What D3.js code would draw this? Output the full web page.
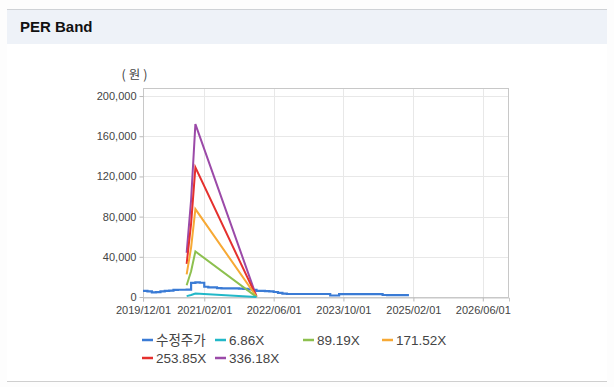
<!DOCTYPE html>
<html><head><meta charset="utf-8">
<script src="https://cdn.jsdelivr.net/npm/d3@7/dist/d3.min.js"></script>
<style>
html,body{margin:0;padding:0;background:#fff;}
svg{display:block;}
</style></head>
<body>
<svg id="c" width="614" height="387"></svg>
<script>
// ---- data ----
const title = "PER Band";
const unitLabel = "(원)";
const priceMonths = ["2019-12","2020-01","2020-02","2020-03","2020-04","2020-05","2020-06","2020-07","2020-08","2020-09",
  "2020-10","2020-11","2020-12","2021-01","2021-02","2021-03","2021-04","2021-05","2021-06","2021-07",
  "2021-08","2021-09","2021-10","2021-11","2021-12","2022-01","2022-02","2022-03","2022-04","2022-05",
  "2022-06","2022-07","2022-08","2022-09","2022-10","2022-11","2022-12","2023-01","2023-02","2023-03",
  "2023-04","2023-05","2023-06","2023-07","2023-08","2023-09","2023-10","2023-11","2023-12","2024-01",
  "2024-02","2024-03","2024-04","2024-05","2024-06","2024-07","2024-08","2024-09","2024-10","2024-11",
  "2024-12","2025-01"];
const priceValues = [6000,5500,4600,4800,5600,6000,6400,7000,7200,7200,
  7300,14000,14600,14200,10200,9600,9500,8800,8600,8600,
  8500,8500,8300,8000,7500,7000,6000,6000,5800,5500,
  5000,4200,3400,3000,3000,3000,3000,3000,3000,3000,
  3000,3000,3000,1500,1500,2800,2800,2800,2800,2800,
  2800,2800,2800,2800,2800,2000,1900,1900,1900,1800,
  1800,1800];
const bandMonths = ["2020-10","2020-11","2020-12","2022-02"];
const band686 = [900, 2000, 3500, 50];
const band8919 = [11700, 25600, 45300, 150];
const band17152 = [22500, 49200, 87500, 250];
const band25385 = [33000, 72900, 129000, 350];
const band33618 = [44000, 96500, 172000, 450];
const seriesNames = ["수정주가","6.86X","89.19X","171.52X","253.85X","336.18X"];
const xTickLabels = ["2019/12/01","2021/02/01","2022/06/01","2023/10/01","2025/02/01","2026/06/01"];
const yTickValues = [0,40000,80000,120000,160000,200000];

// ---- styles / layout ----
const colors = ["#3a7bd5","#22b8c8","#8dc04f","#f7a935","#e5302e","#9b4aa8"];
const svg = d3.select("#c");
const parse = d3.utcParse("%Y-%m");
const parseTick = d3.utcParse("%Y/%m/%d");
const L = 143, R = 509, T = 88, B = 297;

// page chrome
svg.append("rect").attr("x",0).attr("y",0).attr("width",614).attr("height",387).attr("fill","#fdfdfd");
svg.append("rect").attr("x",7).attr("y",9).attr("width",600).attr("height",35).attr("fill","#eef2f8");
svg.append("line").attr("x1",7).attr("x2",607).attr("y1",9.5).attr("y2",9.5).attr("stroke","#cfd2d6");
svg.append("rect").attr("x",7).attr("y",44).attr("width",600).attr("height",337).attr("fill","#fff");
svg.append("line").attr("x1",7).attr("x2",607).attr("y1",381.5).attr("y2",381.5).attr("stroke","#cfcfcf");
svg.append("text").attr("x",20).attr("y",32).text(title)
  .attr("font-family","Liberation Sans, Arial, sans-serif").attr("font-weight","bold")
  .attr("font-size",15).attr("fill","#111");

const x = d3.scaleUtc().domain([parseTick("2019/12/01"), parseTick("2026/12/01")]).range([L,R]);
const y = d3.scaleLinear().domain([0,208000]).range([B,T]);
const xTicks = xTickLabels.map(parseTick);

// grid
const g = svg.append("g");
g.selectAll(".hg").data(yTickValues).join("line")
  .attr("x1",L).attr("x2",R).attr("y1",d=>Math.round(y(d))+0.5).attr("y2",d=>Math.round(y(d))+0.5)
  .attr("stroke","#e8e8e8");
g.selectAll(".vg").data(xTicks).join("line")
  .attr("y1",T).attr("y2",B).attr("x1",d=>Math.round(x(d))+0.5).attr("x2",d=>Math.round(x(d))+0.5)
  .attr("stroke","#e8e8e8");
g.append("rect").attr("x",L+0.5).attr("y",T+0.5).attr("width",R-L-1).attr("height",B-T)
  .attr("fill","none").attr("stroke","#c8c8c8");

// axes
const yAxis = d3.axisLeft(y).tickValues(yTickValues).tickSize(4).tickPadding(3).tickFormat(d3.format(","));
const ya = svg.append("g").attr("transform",`translate(${L+0.5},0)`).call(yAxis);
ya.select(".domain").remove();
ya.selectAll("line").attr("stroke","#bbb");
ya.selectAll("text").attr("font-family","Liberation Sans, Arial, sans-serif").attr("font-size",11).attr("fill","#444");

const xAxis = d3.axisBottom(x).tickValues(xTicks).tickSize(4).tickPadding(5).tickFormat((d,i)=>xTickLabels[i]);
const xa = svg.append("g").attr("transform",`translate(0,${B+0.5})`).call(xAxis);
xa.select(".domain").attr("stroke","#c8c8c8");
xa.selectAll("line").attr("stroke","#bbb");
xa.selectAll("text").attr("font-family","Liberation Sans, Arial, sans-serif").attr("font-size",11).attr("fill","#444");

svg.append("text").attr("x",136).attr("y",79).attr("text-anchor","middle").text(unitLabel)
  .attr("font-family","Noto Sans CJK KR, sans-serif").attr("font-size",12.5)
  .attr("letter-spacing",3).attr("fill","#444");

// lines
const line = d3.line().x(d=>x(d[0])).y(d=>y(d[1]));
const priceData = priceMonths.map((m,i)=>[parse(m), priceValues[i]]);
const bands = [band686, band8919, band17152, band25385, band33618];
const bandDates = bandMonths.map(parse);
const plot = svg.append("g");
bands.slice().reverse().forEach((vals, ri) => {
  const i = bands.length - 1 - ri;
  plot.append("path").datum(bandDates.map((d,j)=>[d, vals[j]]))
    .attr("d", line).attr("fill","none").attr("stroke", colors[i+1]).attr("stroke-width",2);
});
plot.insert("path", ":first-child").datum(priceData)
  .attr("d", d3.line().curve(d3.curveStepAfter).x(d=>x(d[0])).y(d=>y(d[1])))
  .attr("fill","none").attr("stroke", colors[0]).attr("stroke-width",2.2);

// legend
const legendPos = [[142,340],[215,340],[303,340],[382,340],[142,358],[215,358]];
const lg = svg.append("g");
seriesNames.forEach((n,i)=>{
  const [lx,ly] = legendPos[i];
  lg.append("line").attr("x1",lx).attr("x2",lx+11).attr("y1",ly).attr("y2",ly)
    .attr("stroke",colors[i]).attr("stroke-width",2.5);
  lg.append("text").attr("x",lx+14).attr("y",ly+5).text(n)
    .attr("font-family", i===0 ? "Noto Sans CJK KR, sans-serif" : "Liberation Sans, Arial, sans-serif")
    .attr("font-size", 13.5).attr("fill","#444");
});
</script>
</body></html>
